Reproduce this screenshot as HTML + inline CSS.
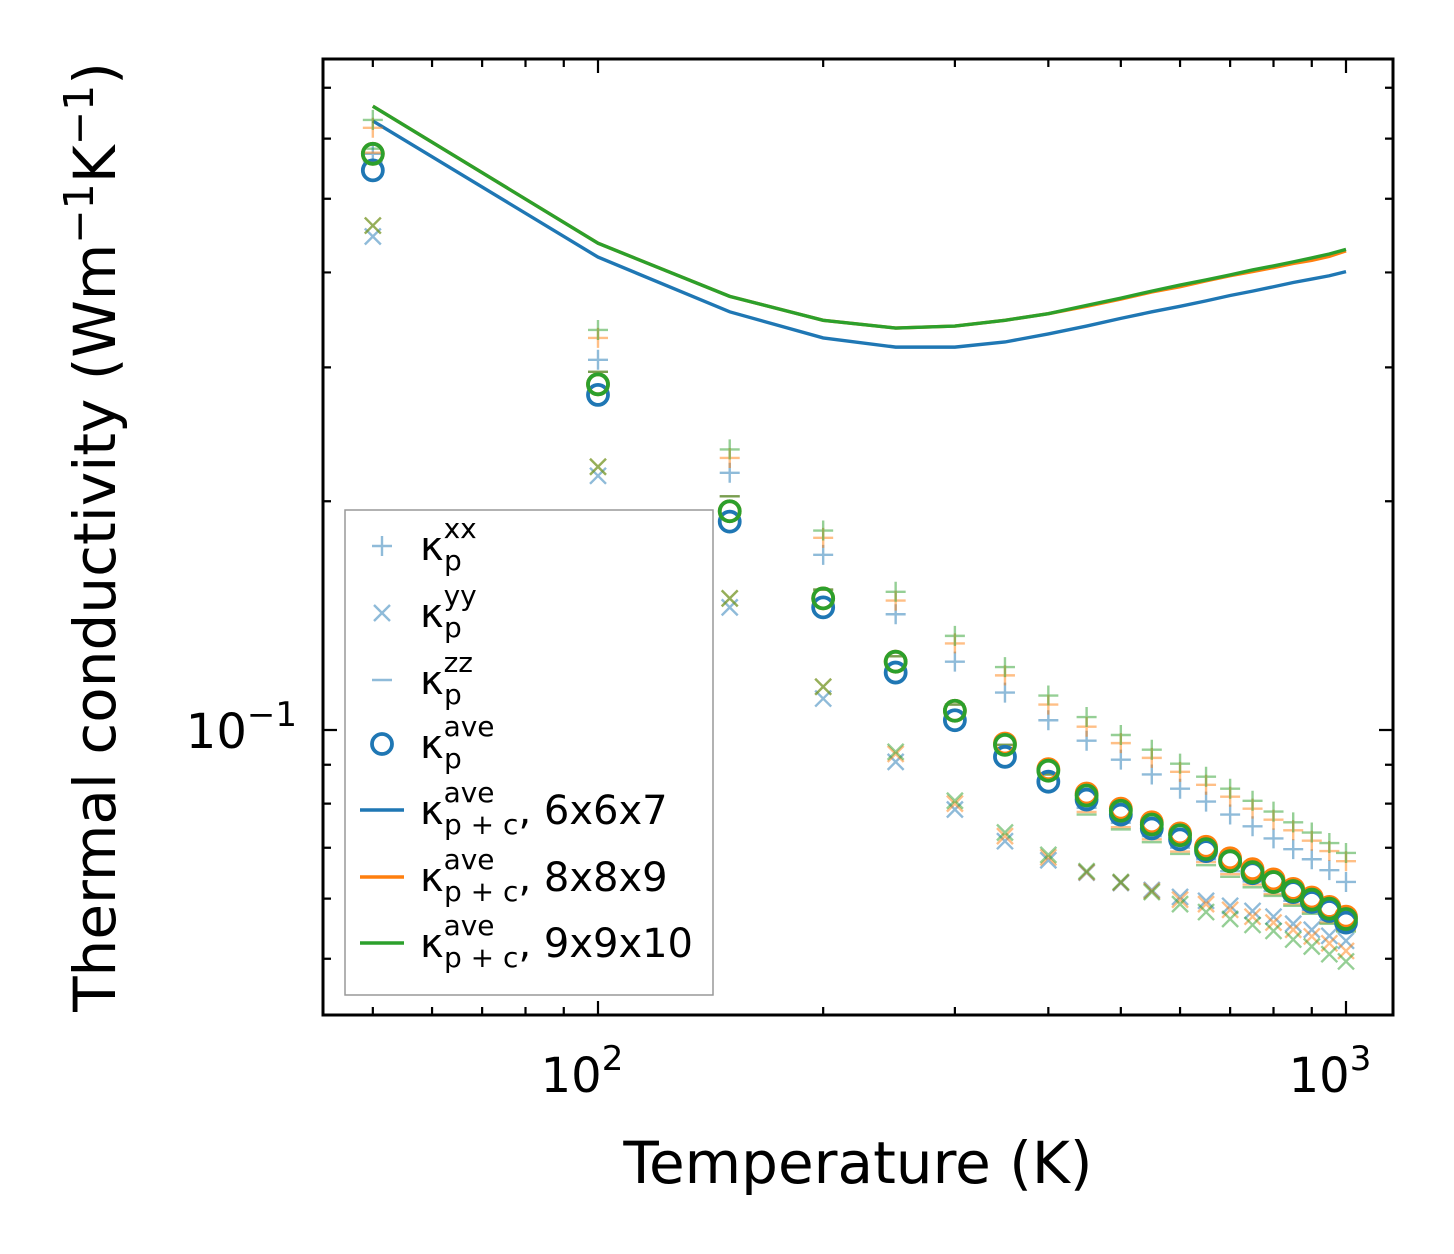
<!DOCTYPE html>
<html><head><meta charset="utf-8"><style>
html,body{margin:0;padding:0;background:#fff;}
svg{display:block;font-family:"DejaVu Sans","Liberation Sans",sans-serif;}
</style></head><body>
<svg id="chart" width="1454" height="1254" viewBox="0 0 1454 1254" xmlns="http://www.w3.org/2000/svg">
<rect x="0" y="0" width="1454" height="1254" fill="#fff"/>
<g id="plot"></g>
<rect x="323" y="59" width="1070" height="956" fill="none" stroke="#000" stroke-width="3"/>
<g id="ticks"></g>
<text x="582" y="1092" font-size="48" text-anchor="middle">10<tspan dy="-22" font-size="34">2</tspan></text>
<text x="1330" y="1092" font-size="48" text-anchor="middle">10<tspan dy="-22" font-size="34">3</tspan></text>
<text x="297" y="748" font-size="48" text-anchor="end">10<tspan dy="-22" font-size="34">−1</tspan></text>
<text x="858" y="1183" font-size="58" text-anchor="middle">Temperature (K)</text>
<text transform="translate(115,537) rotate(-90)" font-size="58" text-anchor="middle">Thermal conductivity (Wm<tspan dy="-22" font-size="41">−1</tspan><tspan dy="22">K</tspan><tspan dy="-22" font-size="41">−1</tspan><tspan dy="22">)</tspan></text>
<g id="legend">
<rect x="345" y="510" width="368" height="485" fill="#fff" fill-opacity="0.8" stroke="#999" stroke-width="1.5"/>
</g>
</svg>
<script>
const temps=[50,100,150,200,250,300,350,400,450,500,550,600,650,700,750,800,850,900,950,1000];
const lineTemps=[50,100,150,200,250,300,350,400,450,500,550,600,650,700,750,800,850,900,950,1000];
const line667=[0.633,0.419,0.355,0.328,0.319,0.319,0.324,0.332,0.340,0.348,0.355,0.361,0.367,0.373,0.378,0.383,0.388,0.392,0.396,0.401];
const line889=[0.662,0.437,0.372,0.346,0.338,0.340,0.346,0.353,0.361,0.369,0.377,0.383,0.390,0.396,0.401,0.406,0.411,0.415,0.420,0.427];
const line9910=[0.662,0.437,0.372,0.346,0.338,0.340,0.346,0.353,0.362,0.370,0.378,0.385,0.391,0.397,0.403,0.408,0.413,0.418,0.423,0.429];
const aveBlue=[0.545,0.276,0.188,0.145,0.119,0.103,0.0922,0.0855,0.0810,0.0774,0.0742,0.0718,0.0693,0.0672,0.0648,0.0631,0.0612,0.0594,0.0578,0.0558];
const aveOrange=[0.573,0.285,0.194,0.149,0.123,0.106,0.0960,0.0888,0.0825,0.0788,0.0756,0.0731,0.0702,0.0678,0.0656,0.0636,0.0618,0.0602,0.0585,0.0568];
const aveGreen=[0.573,0.285,0.194,0.149,0.123,0.106,0.0956,0.0884,0.0820,0.0783,0.0751,0.0727,0.0697,0.0672,0.0650,0.0631,0.0614,0.0598,0.0582,0.0564];
const xxBlue=[0.573,0.307,0.218,0.170,0.142,0.123,0.112,0.103,0.0968,0.0914,0.0874,0.0837,0.0805,0.0774,0.0747,0.0720,0.0697,0.0676,0.0654,0.0631];
const xxOrange=[0.620,0.328,0.228,0.179,0.148,0.130,0.118,0.108,0.101,0.0961,0.0919,0.0881,0.0847,0.0817,0.0788,0.0762,0.0738,0.0715,0.0693,0.0672];
const xxGreen=[0.635,0.336,0.234,0.183,0.152,0.133,0.121,0.111,0.104,0.0985,0.0942,0.0903,0.0868,0.0837,0.0807,0.0781,0.0756,0.0733,0.0710,0.0689];
const yyBlue=[0.446,0.216,0.145,0.110,0.0908,0.0786,0.0714,0.0674,0.0649,0.0629,0.0616,0.0603,0.0596,0.0587,0.0578,0.0568,0.0556,0.0546,0.0536,0.0528];
const yyOrange=[0.461,0.222,0.149,0.114,0.0930,0.0800,0.0725,0.0680,0.0650,0.0630,0.0614,0.0598,0.0590,0.0580,0.0568,0.0558,0.0546,0.0535,0.0524,0.0512];
const yyGreen=[0.461,0.222,0.149,0.114,0.0936,0.0807,0.0733,0.0685,0.0652,0.0631,0.0612,0.0590,0.0576,0.0564,0.0554,0.0544,0.0530,0.0519,0.0507,0.0496];
const zzBlue=[0.560,0.296,0.203,0.153,0.125,0.108,0.0956,0.0874,0.0790,0.0755,0.0725,0.0700,0.0676,0.0652,0.0632,0.0614,0.0596,0.0580,0.0562,0.0548];
const zzOrange=[0.575,0.296,0.203,0.153,0.125,0.108,0.0956,0.0874,0.0780,0.0745,0.0718,0.0692,0.0670,0.0646,0.0626,0.0608,0.0590,0.0576,0.0558,0.0545];
const zzGreen=[0.582,0.296,0.203,0.153,0.125,0.108,0.0956,0.0874,0.0774,0.0740,0.0712,0.0687,0.0664,0.0641,0.0621,0.0605,0.0587,0.0573,0.0556,0.0543];
const xTickMajor=[100,1000];
const xTickMinor=[50,60,70,80,90,200,300,400,500,600,700,800,900];
const yTickMajor=[0.1];
const yTickMinor=[0.05,0.06,0.07,0.08,0.09,0.2,0.3,0.4,0.5,0.6,0.7];

const NS='http://www.w3.org/2000/svg';
const X=t=>598+748*Math.log10(t/100);
const Y=v=>730-760*Math.log10(v/0.1);
const C={blue:'#1f77b4',orange:'#ff7f0e',green:'#2ca02c'};
function mk(tag,attrs,parent){const e=document.createElementNS(NS,tag);for(const k in attrs)e.setAttribute(k,attrs[k]);parent.appendChild(e);return e;}
const plot=document.getElementById('plot');

function drawMarker(type,cx,cy,color,parent,name){
  const g=mk('g',{},parent);
  
  
  const s=10;
  if(type==='plus'){
    mk('path',{d:`M${cx-s} ${cy}H${cx+s}M${cx} ${cy-s}V${cy+s}`,stroke:color,'stroke-width':2.4,'stroke-opacity':0.5,fill:'none'},g);
  }else if(type==='x'){
    const d=8;
    mk('path',{d:`M${cx-d} ${cy-d}L${cx+d} ${cy+d}M${cx-d} ${cy+d}L${cx+d} ${cy-d}`,stroke:color,'stroke-width':2.4,'stroke-opacity':0.5,fill:'none'},g);
  }else if(type==='dash'){
    mk('path',{d:`M${cx-s} ${cy}H${cx+s}`,stroke:color,'stroke-width':2.4,'stroke-opacity':0.5,fill:'none'},g);
  }else{
    mk('circle',{cx:cx,cy:cy,r:10,stroke:color,'stroke-width':3.8,fill:'none'},g);
  }
}
function drawSeries(type,vals,color,name){
  vals.forEach((v,i)=>drawMarker(type,X(temps[i]),Y(v),color,plot,name+'-'+temps[i]));
}
function drawLine(vals,color,name){
  const p=mk('polyline',{points:vals.map((v,i)=>X(lineTemps[i])+','+Y(v)).join(' '),stroke:color,'stroke-width':3.4,fill:'none'},plot);
  
  
}
drawLine(line667,C.blue,'line-6x6x7');
drawLine(line889,C.orange,'line-8x8x9');
drawLine(line9910,C.green,'line-9x9x10');
drawSeries('plus',xxBlue,C.blue,'xx-blue');
drawSeries('plus',xxOrange,C.orange,'xx-orange');
drawSeries('plus',xxGreen,C.green,'xx-green');
drawSeries('x',yyBlue,C.blue,'yy-blue');
drawSeries('x',yyOrange,C.orange,'yy-orange');
drawSeries('x',yyGreen,C.green,'yy-green');
drawSeries('dash',zzBlue,C.blue,'zz-blue');
drawSeries('dash',zzOrange,C.orange,'zz-orange');
drawSeries('dash',zzGreen,C.green,'zz-green');
drawSeries('circle',aveBlue,C.blue,'ave-blue');
drawSeries('circle',aveOrange,C.orange,'ave-orange');
drawSeries('circle',aveGreen,C.green,'ave-green');

const ticks=document.getElementById('ticks');
function xt(t,len){const x=X(t);mk('path',{d:`M${x} 1015V${1015-len}M${x} 59V${59+len}`,stroke:'#000','stroke-width':2.2},ticks);}
function yt(v,len){const y=Y(v);mk('path',{d:`M323 ${y}H${323+len}M1393 ${y}H${1393-len}`,stroke:'#000','stroke-width':2.2},ticks);}
xTickMajor.forEach(t=>xt(t,14));xTickMinor.forEach(t=>xt(t,8));
yTickMajor.forEach(v=>yt(v,14));yTickMinor.forEach(v=>yt(v,8));

const leg=document.getElementById('legend');
const entries=[
 {t:'plus',c:C.blue,sup:'xx',sub:'p',extra:'',y:546,n:'legend-entry-xx'},
 {t:'x',c:C.blue,sup:'yy',sub:'p',extra:'',y:613,n:'legend-entry-yy'},
 {t:'dash',c:C.blue,sup:'zz',sub:'p',extra:'',y:680,n:'legend-entry-zz'},
 {t:'circle',c:C.blue,sup:'ave',sub:'p',extra:'',y:744,n:'legend-entry-ave'},
 {t:'line',c:C.blue,sup:'ave',sub:'p + c',extra:', 6x6x7',y:810,n:'legend-entry-6x6x7'},
 {t:'line',c:C.orange,sup:'ave',sub:'p + c',extra:', 8x8x9',y:877,n:'legend-entry-8x8x9'},
 {t:'line',c:C.green,sup:'ave',sub:'p + c',extra:', 9x9x10',y:943,n:'legend-entry-9x9x10'}
];
entries.forEach(e=>{
  const g=mk('g',{},leg);
  
  
  if(e.t==='line'){mk('path',{d:`M360 ${e.y}H404`,stroke:e.c,'stroke-width':3.4},g);}
  else drawMarker(e.t,382,e.y,e.c,g,e.n+'-marker');
  const tx=mk('text',{x:420,y:e.y+14,'font-size':40},g);
  tx.innerHTML=`κ<tspan font-size="28" dy="-22">${e.sup}</tspan><tspan font-size="28" x="${420+24}" dy="32">${e.sub}</tspan><tspan dy="-10">${e.extra}</tspan>`;
});
</script>
</body></html>
